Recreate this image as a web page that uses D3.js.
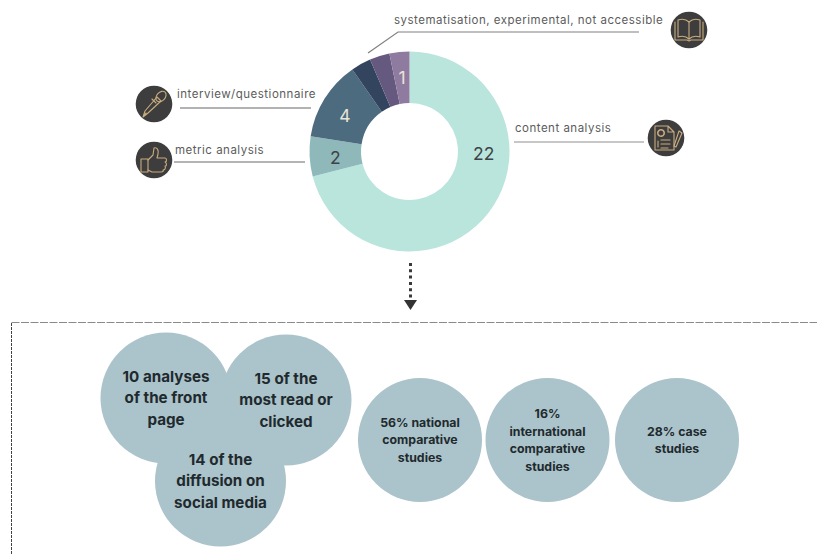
<!DOCTYPE html>
<html><head><meta charset="utf-8">
<script src="https://cdn.jsdelivr.net/npm/d3@7"></script>
<style>html,body{margin:0;background:#fff}svg{display:block}text{font-family:Inter,"Noto Sans",sans-serif}</style>
</head><body><svg id="c" width="817" height="554"></svg>
<script>
// Research methods and how often each was used
const counts=[22,2,4,1,1,1];
const sliceColors=["#bae5dc","#8fb8ba","#4d6b7f","#33445f","#65597f","#8f7b9f"];
const sliceLabels=["22","2","4","","","1"];
const labelColors=["#3d4347","#3d4347","#e8e4d8","","","#e8e4d8"];
const calloutNames=["content analysis","metric analysis","interview/questionnaire","systematisation, experimental, not accessible"];
// Study focus and comparison groups
const overlapRows=[["10 analyses","of the front","page"],["15 of the","most read or","clicked"],["14 of the","diffusion on","social media"]];
const shareRows=[["56% national","comparative","studies"],["16%","international","comparative","studies"],["28% case","studies"]];

const svg=d3.select("#c");
const dark="#3e3d3d", gold="#c9ac80", bubble="#abc3ca";

// Donut, clockwise from twelve o'clock
const donut=svg.append("g").attr("transform","translate(409.5,151.5)");
const slices=d3.pie().sort(null).value(d=>d)(counts);
const arc=d3.arc().innerRadius(48.5).outerRadius(100);
// small optical nudges so the numbers sit low in their slices
const labelNudge=[[0,2],[0,2],[-1.5,3.5],[0,0],[0,0],[0,0]];
donut.selectAll("path").data(slices).join("path").attr("d",arc).attr("fill",(d,i)=>sliceColors[i]);
donut.selectAll("text").data(slices).join("text")
 .attr("transform",(d,i)=>{
   // the large slice carries its number at three o'clock
   const c=i===0?arc.centroid({startAngle:Math.PI/2,endAngle:Math.PI/2}):arc.centroid(d);
   return `translate(${c[0]+labelNudge[i][0]},${c[1]+labelNudge[i][1]})`;
 })
 .attr("text-anchor","middle").attr("dy","0.36em").attr("font-size",17.5)
 .attr("fill",(d,i)=>labelColors[i]).text((d,i)=>sliceLabels[i]);

// Callout leaders
const leaders=[[[514,142],[644,142]],[[174,162],[305,162]],[[180,108],[311,108]],[[368,53],[398,32],[639,32]]];
const leaderStroke=["#b4b4b4","#6a6a6a","#666","#808080"];
svg.selectAll("path.leader").data(leaders).join("path").attr("class","leader")
 .attr("d",d3.line()).attr("fill","none").attr("stroke",(d,i)=>leaderStroke[i]).attr("stroke-width",(d,i)=>i===0?1.6:1.2);
const calloutPos=[[515,132],[175,154],[177,98],[394,24]];
svg.selectAll("text.callout").data(calloutNames).join("text").attr("class","callout")
 .attr("x",(d,i)=>calloutPos[i][0]).attr("y",(d,i)=>calloutPos[i][1])
 .attr("font-size",11.5).attr("letter-spacing",0.5).attr("fill","#5c5c5c").text(d=>d);

// Round icon badges
function badge(x,y,draw){
  const g=svg.append("g").attr("transform",`translate(${x},${y})`);
  g.append("circle").attr("r",18.3).attr("fill",dark);
  const s=g.append("g").attr("fill","none").attr("stroke",gold).attr("stroke-width",1.1).attr("stroke-linejoin","round").attr("stroke-linecap","round");
  draw(s);
}
// microphone
badge(154,104,s=>{
  s.append("path").attr("d","M-11,13 L-9,7 L3,-7 L7,-3 L-6,9 Z M-11,13 L-8,9");
  s.append("ellipse").attr("cx",7).attr("cy",-7.5).attr("rx",6).attr("ry",4.2).attr("transform","rotate(-48 7 -7.5)");
  s.append("path").attr("d","M2,-1 L-2,-5");
});
// thumbs up
badge(154,160,s=>{
  s.append("path").attr("d","M-13,-1 H-6 V12 H-13 Z");
  s.append("path").attr("d","M-6,0 L-1,-5 L0,-12 C3,-13 5,-10 4,-6 L3,-2 H11 C13,-2 13,2 11,2 C13,3 13,6 11,6 C12,8 11,10 9,10 C10,11 9,12 7,12 H-2 L-6,10");
});
// open book
badge(689,30,s=>{
  s.append("path").attr("d","M0,-8 C-3,-11 -8,-11 -11,-10 V7 C-8,6 -3,6 0,9 C3,6 8,6 11,7 V-10 C8,-11 3,-11 0,-8 Z");
  s.append("path").attr("d","M0,-8 V9");
  s.append("path").attr("d","M-14,-8 V10 H-2 L0,11 L2,10 H14 V-8");
});
// document with pen
badge(666,138,s=>{
  s.append("path").attr("d","M-11,-12 H2 L8,-6 V12 H-11 Z M2,-12 V-6 H8");
  s.append("circle").attr("cx",-5).attr("cy",-5).attr("r",3.2).attr("stroke-dasharray","1.6 0.8").attr("stroke-width",1.6);
  s.append("path").attr("d","M-8,3 V9 M-5,2 H4 M-5,6 H4 M-5,10 H2");
  s.append("path").attr("d","M8,8 L13,-7 L16,-5 L10,9 Z");
});

// Dotted arrow from the donut to the panel below
svg.append("line").attr("x1",410.5).attr("x2",410.5).attr("y1",263).attr("y2",298)
 .attr("stroke","#3a3a3a").attr("stroke-width",3).attr("stroke-dasharray","3 3.3");
svg.append("path").attr("d","M404,300 H417 L410.5,310 Z").attr("fill","#333");

// Dashed panel outline, open at the right and bottom edges
svg.append("path").attr("d","M11.5,322.5 H817").attr("fill","none")
 .attr("stroke","#8a8a8a").attr("stroke-width",1).attr("stroke-dasharray","8 1.5");
svg.append("path").attr("d","M11.5,554 V322").attr("fill","none")
 .attr("stroke","#444").attr("stroke-width",1).attr("stroke-dasharray","3 1");

// Bubbles
const overlapCentres=[[166,398],[286,400],[220.5,481]];
const shareCentres=[[420,440],[547.5,440],[677,440]];
function bubbles(rows,centres,r,size,lead,cls){
  svg.selectAll("circle."+cls).data(rows).join("circle").attr("class",cls)
   .attr("cx",(d,i)=>centres[i][0]).attr("cy",(d,i)=>centres[i][1]).attr("r",r).attr("fill",bubble);
  return svg.selectAll("text."+cls).data(rows).join("text").attr("class",cls)
   .attr("text-anchor","middle").attr("font-size",size).attr("font-weight",700).attr("fill","#1f2a2e")
   .each(function(d,i){
     d3.select(this).selectAll("tspan").data(d).join("tspan")
      .attr("x",centres[i][0]).attr("y",(t,j)=>centres[i][1]+(j-(d.length-1)/2)*lead+size*0.36).text(t=>t);
   });
}
bubbles(overlapRows,overlapCentres,65.5,15.2,21.7,"overlap");
bubbles(shareRows,shareCentres,62,12.3,17.5,"share");
</script></body></html>
